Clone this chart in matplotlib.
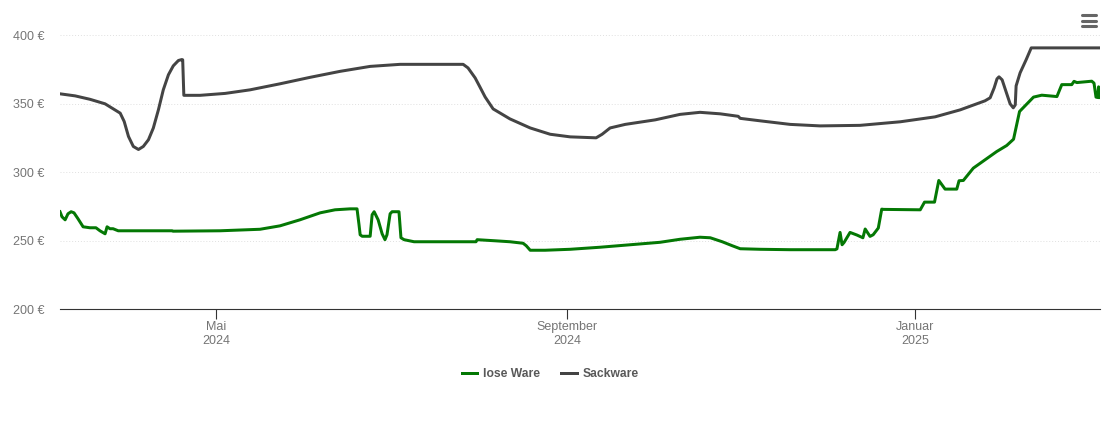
import matplotlib
matplotlib.use("Agg")
import matplotlib.pyplot as plt
from matplotlib.lines import Line2D
import pandas as pd

plt.rcParams['font.family'] = ['Liberation Sans', 'DejaVu Sans']

# days counted from 1 May 2024, prices in euro
lose_days = [-54.7, -54.0, -52.9, -51.9, -50.8, -49.8, -48.4, -46.6, -44.2, -42.1, -40.7, -38.9, -38.2, -37.2, -36.1, -34.3,
             -30.1, -15.4, -15.1, 1.4, 15.4, 22.4, 29.4, 36.5, 41.7, 47.0, 49.4, 50.1, 50.5, 51.2, 54.0, 54.7, 55.4, 56.8,
             58.2, 59.2, 59.9, 61.0, 61.7, 64.1, 64.8, 65.9, 69.4, 75.0, 91.1, 91.5, 97.8, 103.0, 107.6, 108.7, 110.1, 115.3,
             124.1, 134.6, 145.1, 155.6, 162.6, 169.6, 173.2, 177.4, 180.9, 183.7, 190.7, 201.2, 217.0, 217.6, 218.7, 219.4,
             220.1, 222.2, 224.6, 226.7, 227.5, 229.2, 230.3, 232.1, 233.3, 233.9, 246.8, 248.3, 251.8, 253.3, 255.5, 259.6,
             260.4, 261.9, 265.4, 273.6, 277.1, 279.5, 281.6, 286.5, 289.4, 294.7, 296.4, 299.9, 300.7, 301.7, 306.9, 307.7,
             308.4, 309.0, 309.3, 309.5, 309.8]
lose_price = [271.1, 267.4, 265.2, 269.6, 271.1, 270.3, 266.0, 260.1, 259.4, 259.4, 257.2, 255.0, 260.1, 258.7, 258.7, 257.2,
              257.2, 257.2, 256.9, 257.2, 258.3, 260.8, 265.2, 270.3, 272.5, 273.2, 273.2, 261.6, 254.3, 253.2, 253.2, 268.9, 271.1, 265.2,
              255.0, 250.7, 254.3, 269.6, 271.1, 271.1, 252.1, 250.7, 249.2, 249.2, 249.2, 250.7, 249.9, 249.2, 248.1, 246.3, 243.0, 243.0,
              243.7, 245.2, 247.0, 248.8, 251.0, 252.5, 252.1, 249.2, 246.3, 244.1, 243.7, 243.4, 243.4, 244.0, 256.0, 247.0,
              248.7, 256.0, 254.1, 252.1, 258.5, 253.1, 254.3, 259.2, 273.0, 272.8, 272.5, 278.1, 278.1, 293.9, 287.6, 287.6,
              293.7, 293.9, 302.9, 315.0, 319.4, 324.0, 344.2, 354.7, 356.1, 355.1, 363.8, 363.8, 366.2, 365.3, 366.3, 364.9,
              354.7, 354.4, 362.2, 360.0, 354.4]

sack_days = [-54.7, -49.4, -44.2, -38.9, -33.6, -32.2, -30.7, -29.0, -27.2, -25.5, -23.7, -22.0, -20.2, -18.5, -16.7, -15.0,
             -13.2, -12.0, -11.7, -11.3, -5.6, 3.2, 11.9, 22.4, 32.9, 43.5, 54.0, 64.5, 75.0, 86.6, 88.3, 90.8, 92.5, 94.3, 97.1, 103.0,
             110.1, 117.1, 124.1, 133.2, 135.3, 138.1, 143.4, 153.9, 162.6, 169.6, 176.7, 183.0, 183.7, 190.7, 201.2, 211.7,
             225.7, 239.8, 252.0, 260.8, 269.5, 271.3, 272.7, 273.7, 274.4, 275.5, 276.9, 278.3, 279.4, 280.1, 280.4, 281.8,
             283.9, 285.7, 309.8]
sack_price = [357.1, 355.6, 353.1, 349.8, 343.0, 336.9, 326.0, 318.7, 316.5, 318.7, 323.6, 332.1, 345.5, 360.0, 371.0, 377.5,
              381.4, 382.1, 381.9, 356.0, 356.0, 357.4, 360.0, 364.4, 369.1, 373.5, 377.1, 378.6, 378.6, 378.6, 376.0, 368.7, 362.0, 354.8, 346.1, 338.8,
              332.2, 327.6, 325.7, 325.0, 327.6, 332.2, 334.8, 338.1, 342.1, 343.6, 342.5, 340.7, 339.2, 337.4, 334.8, 333.7,
              334.1, 336.7, 340.3, 345.4, 352.0, 354.2, 361.4, 368.0, 369.5, 367.3, 358.5, 349.8, 346.9, 349.0, 362.9, 372.4,
              381.9, 390.6, 390.6]

y_ticks = [200, 250, 300, 350, 400]
x_ticks = ["2024-05-01", "2024-09-01", "2025-01-01"]
x_labels = ["Mai\n2024", "September\n2024", "Januar\n2025"]

base = pd.Timestamp("2024-05-01")
lose_x = base + pd.to_timedelta(lose_days, unit="D")
sack_x = base + pd.to_timedelta(sack_days, unit="D")

fig = plt.figure(figsize=(11.1, 4.23), dpi=100)
ax = fig.add_axes([60/1110, (423-309.2)/423, 1040/1110, 274.2/423])

ax.plot(lose_x, lose_price, color="#047804", lw=2.16, solid_joinstyle="round", label="lose Ware")
ax.plot(sack_x, sack_price, color="#444444", lw=2.16, solid_joinstyle="round", label="Sackware")

ax.set_xlim(base + pd.Timedelta(days=-54.7), base + pd.Timedelta(days=309.8))
ax.set_ylim(200, 400)

ax.set_yticks(y_ticks)
ax.set_yticklabels([str(v) + " €" for v in y_ticks])
ax.set_xticks(pd.to_datetime(x_ticks))
ax.set_xticklabels(x_labels, linespacing=1.25)
ax.tick_params(axis="y", length=0, pad=11, labelsize=9, labelcolor="#757575")
ax.tick_params(axis="x", length=7, width=0.8, color="#333333", pad=1.5, labelsize=9, labelcolor="#757575")

ax.grid(axis="y", color="#e0e0e0", lw=0.7, ls=(0, (1, 2)))
ax.set_axisbelow(True)
for s in ["top", "left", "right"]:
    ax.spines[s].set_visible(False)
ax.spines["bottom"].set_color("#333333")
ax.spines["bottom"].set_linewidth(0.8)

leg = ax.legend(loc="center", bbox_to_anchor=(550/1110, (423-374)/423), bbox_transform=fig.transFigure,
                ncol=2, frameon=False, handlelength=1.3, handletextpad=0.45, columnspacing=1.75,
                prop={"weight": "bold", "size": 8.75})
for t in leg.get_texts():
    t.set_color("#595959")

# menu icon
for y in [15.5, 21, 26]:
    fig.add_artist(Line2D([1082/1110, 1096/1110], [(423-y)/423, (423-y)/423], color="#666666", lw=2.2,
                          solid_capstyle="round"))

fig.savefig("out.png", dpi=100)
